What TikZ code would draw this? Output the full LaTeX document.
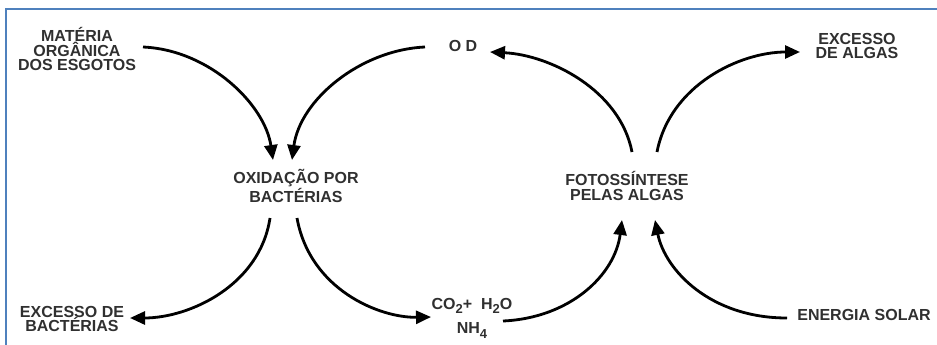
\documentclass[tikz,border=0pt]{standalone}
\usepackage{fontspec}
\setmainfont{Liberation Sans}
\usetikzlibrary{arrows.meta}
\definecolor{frameblue}{HTML}{4F81BD}
\definecolor{txt}{HTML}{303030}
\newcommand{\chemsub}[1]{\raisebox{-4.5pt}{\fontsize{13}{13}\selectfont #1}}
\tikzset{
  lbl/.style={inner sep=0pt, align=center, text=txt, font=\fontsize{16}{14.5}\selectfont\bfseries},
  arr/.style={line width=2.8pt, -{Triangle[length=15pt,width=13pt]}},
}
\begin{document}
\begin{tikzpicture}[x=1pt,y=-1pt]
\useasboundingbox (0,0) rectangle (937,345);
\draw[frameblue, line width=2pt] (6,345) -- (6,9.5) -- (937,9.5);

\node[lbl] (mat) at (77,49) {MATÉRIA\\ORGÂNICA\\DOS ESGOTOS};
\node[lbl] (od) at (463,46) {O D};
\node[lbl] (exal) at (857,46) {EXCESSO\\DE ALGAS};
\node[lbl] (oxi) at (296,186) {OXIDAÇÃO POR\\BACTÉRIAS};
\node[lbl] (foto) at (627,186) {FOTOSSÍNTESE\\PELAS ALGAS};
\node[lbl] (exbac) at (72,319) {EXCESSO DE\\BACTÉRIAS};
\node[lbl, anchor=north] (chem) at (472,298) {CO\chemsub{2}+\ \ H\chemsub{2}O\\[8pt]NH\chemsub{4}};
\node[lbl] (sol) at (864,315) {ENERGIA SOLAR};

\coordinate (m1) at (143,47);  \coordinate (o1) at (273,160);
\coordinate (d1) at (425,47);  \coordinate (o2) at (292,160);
\coordinate (f1) at (632,152); \coordinate (d2) at (490,52);
\coordinate (f2) at (657,152); \coordinate (e1) at (800,52);
\coordinate (o3) at (270,218); \coordinate (b1) at (130,318);
\coordinate (o4) at (297,218); \coordinate (c1) at (431,317);
\coordinate (c2) at (503,321); \coordinate (f3) at (622,220);
\coordinate (s1) at (787,318); \coordinate (f4) at (655,220);

\draw[arr] (m1) .. controls (210,50) and (265,105) .. (o1);
\draw[arr] (d1) .. controls (360,50) and (300,100) .. (o2);
\draw[arr] (f1) .. controls (620,90) and (550,55) .. (d2);
\draw[arr] (f2) .. controls (670,85) and (740,52) .. (e1);
\draw[arr] (o3) .. controls (260,285) and (190,318) .. (b1);
\draw[arr] (o4) .. controls (310,290) and (380,318) .. (c1);
\draw[arr] (c2) .. controls (570,318) and (615,275) .. (f3);
\draw[arr] (s1) .. controls (710,318) and (665,270) .. (f4);
\end{tikzpicture}
\end{document}
